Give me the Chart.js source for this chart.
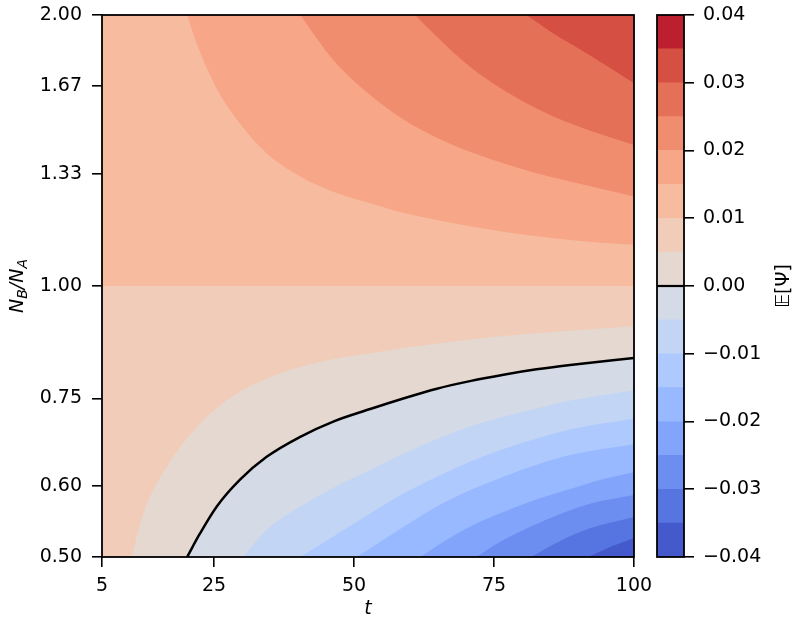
<!DOCTYPE html>
<html>
<head>
<meta charset="utf-8">
<script src="https://cdn.jsdelivr.net/npm/chart.js@4.4.1/dist/chart.umd.min.js"></script>
<style>
  body { margin: 0; background: #fff; }
  #wrap { position: relative; width: 800px; height: 628px; }
  #main { position: absolute; left: 0; top: 0; }
  #cbar { position: absolute; left: 640px; top: 0; }
</style>
</head>
<body>
<div id="wrap">
  <canvas id="main" width="660" height="628"></canvas>
  <canvas id="cbar" width="160" height="628"></canvas>
</div>
<script>
// contour levels of E[Psi] and the coolwarm colour of each band between them
const levels = [-0.04, -0.035, -0.03, -0.025, -0.02, -0.015, -0.01, -0.005, 0,
  0.005, 0.01, 0.015, 0.02, 0.025, 0.03, 0.035, 0.04];
const bandColors = ["#445acc", "#5775e1", "#6c8ef1", "#82a5fb", "#98b9ff", "#aec9fd",
  "#c2d5f4", "#d5dbe6", "#e5d8d1", "#f1ccb8", "#f7bba0", "#f7a687", "#f18d6f",
  "#e57058", "#d55042", "#bc1f2d"];

const xTicks = [5, 25, 50, 75, 100];
const yTicks = [0.5, 0.6, 0.75, 1.0, 1.333, 1.667, 2.0];
const cbTicks = [-0.04, -0.03, -0.02, -0.01, 0, 0.01, 0.02, 0.03, 0.04];

// E[Psi] jumps at N_B/N_A = 1
const ratioSplit = 1.0;

// contour lines, pairs of [t, N_B/N_A]
// above the split (value rises towards the top right)
const upper015 = [[20.2, 2.0], [21.9, 1.860], [25.3, 1.665], [29.6, 1.516], [34.4, 1.404],
  [40.4, 1.323], [46.3, 1.273], [52.9, 1.236], [58.8, 1.206], [64.8, 1.184],
  [76.7, 1.149], [88.6, 1.125], [100, 1.111]];
const upper020 = [[40.4, 2.0], [46.3, 1.783], [52.9, 1.630], [58.8, 1.532], [64.8, 1.461],
  [70.7, 1.410], [76.7, 1.369], [82.6, 1.334], [88.6, 1.306], [100, 1.257]];
const upper025 = [[60.9, 2.0], [64.8, 1.892], [70.7, 1.752], [76.7, 1.651], [82.6, 1.575],
  [88.6, 1.516], [94.5, 1.471], [100, 1.434]];
const upper030 = [[80.8, 2.0], [85.6, 1.908], [91.6, 1.813], [100, 1.680]];

// below the split (value falls towards the bottom right)
const lower005 = [[10.3, 0.5], [12.4, 0.559], [16.6, 0.630], [22.5, 0.703], [28.4, 0.755],
  [34.4, 0.789], [40.4, 0.813], [46.3, 0.829], [52.9, 0.842], [64.8, 0.863],
  [76.7, 0.880], [88.6, 0.892], [100, 0.903]];
const lower000 = [[20.2, 0.5], [22.5, 0.531], [25.5, 0.569], [29.6, 0.609], [34.4, 0.646],
  [40.4, 0.680], [46.3, 0.707], [52.9, 0.730], [58.8, 0.750], [64.8, 0.769],
  [70.7, 0.784], [76.7, 0.797], [82.6, 0.808], [88.6, 0.817], [100, 0.832]];
const lowerM005 = [[30.2, 0.5], [34.4, 0.536], [40.4, 0.569], [46.3, 0.597], [52.9, 0.625],
  [58.8, 0.651], [64.8, 0.676], [70.7, 0.698], [76.7, 0.716], [82.6, 0.731],
  [88.6, 0.746], [100, 0.766]];
const lowerM010 = [[40.4, 0.5], [46.3, 0.527], [52.9, 0.559], [58.8, 0.588], [64.8, 0.614],
  [70.7, 0.638], [76.7, 0.659], [82.6, 0.677], [88.6, 0.693], [100, 0.712]];
const lowerM015 = [[50.5, 0.5], [58.8, 0.540], [64.8, 0.569], [70.7, 0.593], [76.7, 0.614],
  [82.6, 0.633], [88.6, 0.649], [100, 0.667]];
const lowerM020 = [[61.8, 0.5], [67.1, 0.525], [72.5, 0.547], [77.9, 0.565], [83.2, 0.581],
  [88.6, 0.595], [93.9, 0.609], [100, 0.621]];
const lowerM025 = [[71.8, 0.5], [76.1, 0.520], [81.4, 0.540], [86.8, 0.558], [92.1, 0.573],
  [100, 0.586]];
const lowerM030 = [[81.6, 0.5], [86.8, 0.521], [92.1, 0.538], [100, 0.554]];
const lowerM035 = [[91.8, 0.5], [95.7, 0.513], [100, 0.525]];

const upperContours = [[0.015, upper015], [0.02, upper020], [0.025, upper025], [0.03, upper030]];
const lowerContours = [[0.005, lower005], [0, lower000], [-0.005, lowerM005], [-0.01, lowerM010],
  [-0.015, lowerM015], [-0.02, lowerM020], [-0.025, lowerM025], [-0.03, lowerM030], [-0.035, lowerM035]];

const FONT = "'DejaVu Sans', sans-serif";
Chart.defaults.font.family = FONT;
Chart.defaults.font.size = 19;
Chart.defaults.color = "#000";

function levelIndex(v) {
  return levels.findIndex((l) => Math.abs(l - v) < 1e-9);
}

function toPoints(pairs) {
  return pairs.map(([t, r]) => ({ x: t, y: r }));
}

// keep the plot box fixed: no extra room for the end labels
function noEdgePadding(s) {
  s.paddingTop = 0;
  s.paddingBottom = 0;
  s.paddingLeft = 0;
  s.paddingRight = 0;
}

function band(pairs, color, fill, order) {
  return {
    data: toPoints(pairs),
    backgroundColor: color,
    borderColor: "rgba(0,0,0,0)",
    borderWidth: 0,
    pointRadius: 0,
    fill: fill,
    cubicInterpolationMode: "monotone",
    order: order,
  };
}

const datasets = [];
// base bands either side of the split
datasets.push(band([[5, ratioSplit], [100, ratioSplit]], bandColors[levelIndex(0.01)], "end", 50));
datasets.push(band([[5, ratioSplit], [100, ratioSplit]], bandColors[levelIndex(0.005)], "start", 50));
upperContours.forEach(([lv, pts], i) => {
  datasets.push(band(pts, bandColors[levelIndex(lv)], "end", 40 - i));
});
lowerContours.forEach(([lv, pts], i) => {
  datasets.push(band(pts, bandColors[levelIndex(lv) - 1], "start", 40 - i));
});
// zero contour drawn as a black line
datasets.push({
  data: toPoints(lower000),
  borderColor: "#000",
  borderWidth: 2.5,
  pointRadius: 0,
  fill: false,
  cubicInterpolationMode: "monotone",
  order: 0,
});

const frame = {
  id: "frame",
  afterDatasetsDraw(chart) {
    const { ctx, chartArea: a } = chart;
    ctx.save();
    ctx.strokeStyle = "#000";
    ctx.lineWidth = 1.8;
    ctx.strokeRect(a.left, a.top, a.right - a.left, a.bottom - a.top);
    ctx.restore();
  },
};

const yTitle = {
  id: "yTitle",
  afterDraw(chart) {
    const { ctx, chartArea: a } = chart;
    const big = "italic 19px " + FONT;
    const small = "italic 14px " + FONT;
    const parts = [["N", big, 0], ["B", small, 5], ["/N", big, 0], ["A", small, 5]];
    ctx.save();
    ctx.translate(18, (a.top + a.bottom) / 2);
    ctx.rotate(-Math.PI / 2);
    ctx.fillStyle = "#000";
    ctx.textBaseline = "middle";
    let w = 0;
    parts.forEach((p) => { ctx.font = p[1]; w += ctx.measureText(p[0]).width; });
    let x = -w / 2;
    parts.forEach((p) => {
      ctx.font = p[1];
      ctx.fillText(p[0], x, p[2]);
      x += ctx.measureText(p[0]).width;
    });
    ctx.restore();
  },
};

new Chart(document.getElementById("main"), {
  type: "line",
  data: { datasets: datasets },
  options: {
    responsive: false,
    animation: false,
    events: [],
    layout: { padding: { top: 15, right: 26, left: 0, bottom: 0 } },
    plugins: { legend: { display: false }, tooltip: { enabled: false } },
    scales: {
      x: {
        type: "linear",
        min: 5,
        max: 100,
        afterBuildTicks: (s) => { s.ticks = xTicks.map((v) => ({ value: v })); },
        afterFit: (s) => { s.height = 71; noEdgePadding(s); },
        ticks: { autoSkip: false, maxRotation: 0, padding: 8 },
        grid: { drawOnChartArea: false, tickLength: 10, color: "#000", lineWidth: 1.6 },
        border: { display: false },
        title: { display: true, text: "t", font: { style: "italic", size: 19 }, padding: { top: 0, bottom: 8 } },
      },
      y: {
        type: "logarithmic",
        min: 0.5,
        max: 2,
        afterBuildTicks: (s) => { s.ticks = yTicks.map((v) => ({ value: v })); },
        afterFit: (s) => { s.width = 102; noEdgePadding(s); },
        ticks: { autoSkip: false, padding: 10, callback: (v) => Number(v).toFixed(2) },
        grid: { drawOnChartArea: false, tickLength: 10, color: "#000", lineWidth: 1.6 },
        border: { display: false },
      },
    },
  },
  plugins: [frame, yTitle],
});

// colour bar
const cbFrame = {
  id: "cbFrame",
  afterDatasetsDraw(chart) {
    const { ctx, chartArea: a } = chart;
    const y0 = chart.scales.y.getPixelForValue(0);
    ctx.save();
    ctx.strokeStyle = "#000";
    ctx.lineWidth = 2.2;
    ctx.beginPath();
    ctx.moveTo(a.left, y0);
    ctx.lineTo(a.right, y0);
    ctx.stroke();
    ctx.lineWidth = 1.8;
    ctx.strokeRect(a.left, a.top, a.right - a.left, a.bottom - a.top);
    ctx.restore();
  },
  afterDraw(chart) {
    const { ctx, chartArea: a } = chart;
    ctx.save();
    ctx.translate(144, (a.top + a.bottom) / 2);
    ctx.rotate(-Math.PI / 2);
    ctx.fillStyle = "#000";
    ctx.font = "19px " + FONT;
    ctx.textAlign = "center";
    ctx.textBaseline = "middle";
    ctx.fillText("\u{1D53C}[\u03A8]", 0, 0);
    ctx.restore();
  },
};

const cbSets = bandColors.map((c, i) => ({
  data: [[levels[i], levels[i + 1]]],
  backgroundColor: c,
  borderWidth: 0,
  barPercentage: 1,
  categoryPercentage: 1,
  grouped: false,
}));

new Chart(document.getElementById("cbar"), {
  type: "bar",
  data: { labels: [""], datasets: cbSets },
  options: {
    responsive: false,
    animation: false,
    events: [],
    layout: { padding: { top: 15, bottom: 71, left: 17, right: 0 } },
    plugins: { legend: { display: false }, tooltip: { enabled: false } },
    scales: {
      x: { display: false },
      y: {
        position: "right",
        min: -0.04,
        max: 0.04,
        afterBuildTicks: (s) => { s.ticks = cbTicks.map((v) => ({ value: v })); },
        afterFit: (s) => { s.width = 116; noEdgePadding(s); },
        ticks: {
          autoSkip: false,
          padding: 9,
          callback: (v) => (v < -1e-9 ? "\u2212" : "") + Math.abs(v).toFixed(2),
        },
        grid: { drawOnChartArea: false, tickLength: 10, color: "#000", lineWidth: 1.6 },
        border: { display: false },
      },
    },
  },
  plugins: [cbFrame],
});
</script>
</body>
</html>
